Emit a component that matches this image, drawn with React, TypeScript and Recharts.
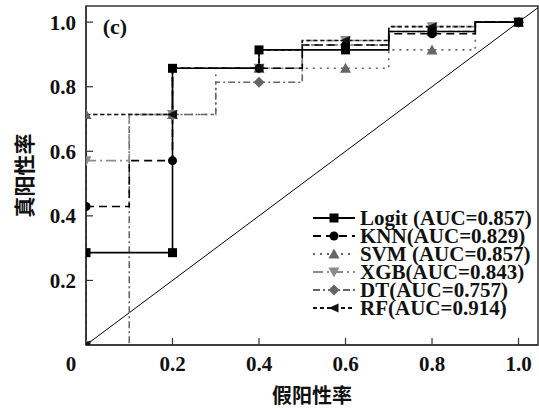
import React from 'react';
import { LineChart, Line, XAxis, YAxis, ReferenceArea, ReferenceDot, Legend, Label } from 'recharts';

document.body.style.margin = '0';

const FONT = '"Liberation Serif", "Times New Roman", serif';
const CJK = '"Noto Sans CJK SC", sans-serif';

// ROC points (fpr, tpr, marker flag)
const fprLogit = [0, 0.2, 0.2, 0.4, 0.4, 0.6, 0.7, 0.7, 0.8, 0.9, 0.9, 1];
const tprLogit = [0.286, 0.286, 0.857, 0.857, 0.914, 0.914, 0.914, 0.971, 0.971, 0.971, 1, 1];
const mkLogit = [1, 1, 1, 0, 1, 1, 0, 0, 1, 0, 0, 1];

const fprKnn = [0, 0.1, 0.1, 0.2, 0.2, 0.4, 0.5, 0.5, 0.6, 0.7, 0.7, 0.8, 0.9, 0.9, 1];
const tprKnn = [0.429, 0.429, 0.571, 0.571, 0.857, 0.857, 0.857, 0.929, 0.929, 0.929, 0.964, 0.964, 0.964, 1, 1];
const mkKnn = [1, 0, 0, 1, 0, 1, 0, 0, 1, 0, 0, 1, 0, 0, 1];

const fprSvm = [0, 0.2, 0.3, 0.3, 0.4, 0.6, 0.7, 0.7, 0.8, 0.9, 0.9, 1];
const tprSvm = [0.714, 0.714, 0.714, 0.857, 0.857, 0.857, 0.857, 0.914, 0.914, 0.914, 1, 1];
const mkSvm = [1, 1, 0, 0, 1, 1, 0, 0, 1, 0, 0, 1];

const fprXgb = [0, 0.1, 0.1, 0.2, 0.2, 0.4, 0.5, 0.5, 0.6, 0.7, 0.7, 0.8, 0.9, 0.9, 1];
const tprXgb = [0.571, 0.571, 0.714, 0.714, 0.857, 0.857, 0.857, 0.943, 0.943, 0.943, 0.986, 0.986, 0.986, 1, 1];
const mkXgb = [1, 0, 0, 1, 0, 1, 0, 0, 1, 0, 0, 1, 0, 0, 1];

const fprDt = [0, 0.1, 0.1, 0.2, 0.3, 0.3, 0.4, 0.5, 0.5, 0.6, 0.7, 0.7, 0.8, 0.9, 0.9, 1];
const tprDt = [0, 0, 0.714, 0.714, 0.714, 0.814, 0.814, 0.814, 0.929, 0.929, 0.929, 0.971, 0.971, 0.971, 1, 1];
const mkDt = [1, 0, 0, 1, 0, 0, 1, 0, 0, 1, 0, 0, 1, 0, 0, 1];

const fprRf = [0, 0, 0.2, 0.2, 0.4, 0.4, 0.5, 0.5, 0.6, 0.7, 0.7, 0.8, 0.9, 0.9, 1];
const tprRf = [0, 0.714, 0.714, 0.857, 0.857, 0.914, 0.914, 0.943, 0.943, 0.943, 0.986, 0.986, 0.986, 1, 1];
const mkRf = [1, 0, 1, 0, 1, 0, 0, 0, 1, 0, 0, 1, 0, 0, 1];

const diagX = [0, 1.045];

const xTicks = [0, 0.2, 0.4, 0.6, 0.8, 1.0];
const yTicks = [0.2, 0.4, 0.6, 0.8, 1.0];

const toPts = (fpr: number[], tpr: number[], mk: number[]) =>
  fpr.map((x, i) => ({ x, y: tpr[i], m: mk[i] }));

type Kind = 'square' | 'circle' | 'up' | 'down' | 'diamond' | 'left';

const series: { label: string; color: string; dash?: string; marker: Kind; data: any[] }[] = [
  { label: 'DT(AUC=0.757)', color: '#666', dash: '7 3 2 3', marker: 'diamond', data: toPts(fprDt, tprDt, mkDt) },
  { label: 'XGB(AUC=0.843)', color: '#8c8c8c', dash: '10 4 2 4', marker: 'down', data: toPts(fprXgb, tprXgb, mkXgb) },
  { label: 'SVM (AUC=0.857)', color: '#666', dash: '2 5', marker: 'up', data: toPts(fprSvm, tprSvm, mkSvm) },
  { label: 'KNN(AUC=0.829)', color: '#000', dash: '8 5', marker: 'circle', data: toPts(fprKnn, tprKnn, mkKnn) },
  { label: 'RF(AUC=0.914)', color: '#111', dash: '4 3', marker: 'left', data: toPts(fprRf, tprRf, mkRf) },
  { label: 'Logit (AUC=0.857)', color: '#000', marker: 'square', data: toPts(fprLogit, tprLogit, mkLogit) },
];

const legendOrder = [5, 3, 2, 1, 0, 4];

function Marker({ kind, cx, cy, color }: { kind: Kind; cx: number; cy: number; color: string }) {
  const s = 4.5;
  switch (kind) {
    case 'square':
      return <rect x={cx - s} y={cy - s} width={2 * s} height={2 * s} fill={color} />;
    case 'circle':
      return <circle cx={cx} cy={cy} r={s} fill={color} />;
    case 'up':
      return <polygon points={`${cx},${cy - s - 1} ${cx + s + 1},${cy + s} ${cx - s - 1},${cy + s}`} fill={color} />;
    case 'down':
      return <polygon points={`${cx},${cy + s + 1} ${cx + s + 1},${cy - s} ${cx - s - 1},${cy - s}`} fill={color} />;
    case 'diamond':
      return <polygon points={`${cx},${cy - s - 1} ${cx + s + 1},${cy} ${cx},${cy + s + 1} ${cx - s - 1},${cy}`} fill={color} />;
    default:
      return <polygon points={`${cx - s - 1},${cy} ${cx + s},${cy - s} ${cx + s},${cy + s}`} fill={color} />;
  }
}

const XTick = ({ x, y, payload }: any) => {
  const v = payload.value;
  return (
    <g>
      {v > 0 && <line x1={x} x2={x} y1={y} y2={y - 7} stroke="#333" strokeWidth={1.2} />}
      <text x={v === 0 ? x - 15 : x} y={y + 26} textAnchor="middle" fill="#111"
        style={{ fontFamily: FONT, fontWeight: 700, fontSize: 21 }}>
        {v === 0 ? '0' : v.toFixed(1)}
      </text>
    </g>
  );
};

const YTick = ({ x, y, payload }: any) => (
  <g>
    <line x1={x} x2={x + 7} y1={y} y2={y} stroke="#333" strokeWidth={1.2} />
    <text x={x - 10} y={y + 7.5} textAnchor="end" fill="#111"
      style={{ fontFamily: FONT, fontWeight: 700, fontSize: 21 }}>
      {payload.value.toFixed(1)}
    </text>
  </g>
);

function LegendBox() {
  return (
    <div style={{ display: 'flex', flexDirection: 'column' }}>
      {legendOrder.map((i) => {
        const s = series[i];
        return (
          <div key={s.label} style={{ display: 'flex', alignItems: 'center', height: 18 }}>
            <svg width={46} height={18}>
              <line x1={2} x2={44} y1={9} y2={9} stroke={s.color} strokeWidth={2} strokeDasharray={s.dash} />
              <Marker kind={s.marker} cx={23} cy={9} color={s.color} />
            </svg>
            <span style={{ marginLeft: 3, fontFamily: FONT, fontWeight: 700, fontSize: 21, lineHeight: '18px', color: '#111', whiteSpace: 'nowrap' }}>
              {s.label}
            </span>
          </div>
        );
      })}
    </div>
  );
}

export default function App() {
  const diag = diagX.map((v) => ({ x: v, y: v }));
  return (
    <LineChart width={539} height={411} margin={{ top: 6, right: 1, left: 26, bottom: 0 }}>
      <XAxis type="number" dataKey="x" domain={[0, 1.045]} ticks={xTicks} interval={0} allowDataOverflow
        tick={XTick} tickLine={false} tickSize={0} tickMargin={0} height={66}
        axisLine={{ stroke: '#333', strokeWidth: 1.5 }}>
        <Label value="假阳性率" position="insideBottom" offset={8}
          style={{ fontFamily: CJK, fontWeight: 700, fontSize: 20, fill: '#111' }} />
      </XAxis>
      <YAxis type="number" domain={[0, 1.05]} ticks={yTicks} interval={0} allowDataOverflow
        tick={YTick} tickLine={false} tickSize={0} tickMargin={0} width={60}
        axisLine={{ stroke: '#333', strokeWidth: 1.5 }}
        label={({ viewBox }: any) => (
          <text x={viewBox.x - 3} y={viewBox.y + viewBox.height / 2} textAnchor="middle" dominantBaseline="central"
            transform={`rotate(-90 ${viewBox.x - 3} ${viewBox.y + viewBox.height / 2})`}
            style={{ fontFamily: CJK, fontWeight: 700, fontSize: 21, fill: '#111' }}>
            真阳性率
          </text>
        )} />
      <ReferenceArea x1={0} x2={1.045} y1={0} y2={1.05} fill="none" stroke="#333" strokeWidth={1.5} />
      <Line data={diag} dataKey="y" type="linear" stroke="#000" strokeWidth={1} dot={false} activeDot={false}
        isAnimationActive={false} legendType="none" />
      {series.map((s) => (
        <Line key={s.label} data={s.data} dataKey="y" type="linear" stroke={s.color} strokeWidth={1.6}
          strokeDasharray={s.dash} isAnimationActive={false} activeDot={false} legendType="none"
          dot={(p: any) =>
            p.payload.m ? <Marker key={p.index} kind={s.marker} cx={p.cx} cy={p.cy} color={s.color} /> : <g key={p.index} />
          } />
      ))}
      <ReferenceDot x={0.067} y={0.989} r={0} fill="none" stroke="none">
        <Label value="(c)" position="center" style={{ fontFamily: FONT, fontWeight: 700, fontSize: 22, fill: '#111' }} />
      </ReferenceDot>
      <Legend layout="vertical" align="center" verticalAlign="middle" content={() => <LegendBox />}
        wrapperStyle={{ left: 311, top: 209, width: 228, height: 'auto' }} />
    </LineChart>
  );
}
